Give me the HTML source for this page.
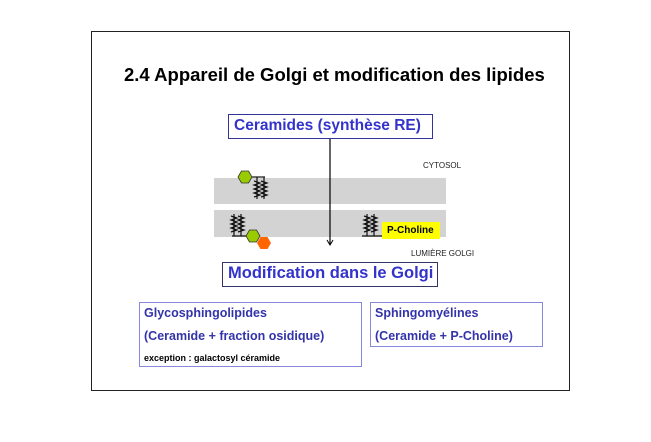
<!DOCTYPE html>
<html><head><style>
body{margin:0;width:651px;height:442px;background:#fff;position:relative;font-family:"Liberation Sans",sans-serif;overflow:hidden}
.a{position:absolute;white-space:nowrap;font-weight:bold}
.b{position:absolute;box-sizing:border-box}
</style></head><body>
<div class="b" style="left:91px;top:31px;width:479px;height:360px;border:1.5px solid #222"></div>
<div class="a" style="left:124px;top:64px;font-size:18.5px;color:#000">2.4 Appareil de Golgi et modification des lipides</div>
<div class="b" style="left:228px;top:114px;width:205px;height:25px;border:1.5px solid #333399"></div>
<div class="a" style="left:234px;top:117px;font-size:15.5px;color:#3333cc">Ceramides (synthèse RE)</div>
<div class="b" style="left:214px;top:178px;width:232px;height:26px;background:#d3d3d3"></div>
<div class="b" style="left:214px;top:210px;width:232px;height:27px;background:#d3d3d3"></div>
<div class="a" style="left:423px;top:161px;font-size:8px;color:#222;font-weight:normal">CYTOSOL</div>
<div class="a" style="left:411px;top:249px;font-size:8px;color:#222;font-weight:normal">LUMIÈRE GOLGI</div>
<div class="b" style="left:382px;top:222px;width:58px;height:17px;background:#ffff00"></div>
<div class="a" style="left:387px;top:225px;font-size:10px;color:#000">P-Choline</div>
<svg style="position:absolute;left:0;top:0" width="651" height="442">
<line x1="330" y1="139" x2="330" y2="244" stroke="#000" stroke-width="1.2"/>
<polyline points="327,240 330,245 333,240" fill="none" stroke="#000"/>
<g stroke="#111" stroke-width="1.2" fill="none">
<polyline points="252,177 265,177"/>
<polyline points="257,177 257,199"/><polyline points="264,177 264,199"/>
<polyline points="254,181 260,183 254,185 260,187 254,189 260,191 254,193 260,195 254,197"/>
<polyline points="261,181 267,183 261,185 267,187 261,189 267,191 261,193 267,195 261,197"/>
<polyline points="232,236 246,236"/>
<polyline points="234,214 234,236"/><polyline points="241,214 241,236"/>
<polyline points="231,216 237,218 231,220 237,222 231,224 237,226 231,228 237,230 231,232"/>
<polyline points="238,216 244,218 238,220 244,222 238,224 244,226 238,228 244,230 238,232"/>
<polyline points="362,236 382,236"/>
<polyline points="367,214 367,236"/><polyline points="374,214 374,236"/>
<polyline points="364,216 370,218 364,220 370,222 364,224 370,226 364,228 370,230 364,232"/>
<polyline points="371,216 377,218 371,220 377,222 371,224 377,226 371,228 377,230 371,232"/>
</g>
<polygon points="238,177 241.5,171 248.5,171 252,177 248.5,183 241.5,183" fill="#99cc00" stroke="#333" stroke-width="0.8"/>
<polygon points="246,236 249.5,230 256.5,230 260,236 256.5,242 249.5,242" fill="#99cc00" stroke="#333" stroke-width="0.8"/>
<polygon points="257,243 260.5,237 267.5,237 271,243 267.5,249 260.5,249" fill="#ff6600"/>
</svg>
<div class="b" style="left:222px;top:262px;width:216px;height:25px;border:1.5px solid #333366"></div>
<div class="a" style="left:228px;top:264px;font-size:16.5px;color:#3333cc">Modification dans le Golgi</div>
<div class="b" style="left:139px;top:302px;width:223px;height:65px;border:1.5px solid #8888dd"></div>
<div class="a" style="left:144px;top:306px;font-size:12.5px;color:#3333aa">Glycosphingolipides</div>
<div class="a" style="left:144px;top:329px;font-size:12.5px;color:#3333aa">(Ceramide + fraction osidique)</div>
<div class="a" style="left:144px;top:353px;font-size:9px;color:#000">exception : galactosyl céramide</div>
<div class="b" style="left:370px;top:302px;width:173px;height:45px;border:1.5px solid #8888dd"></div>
<div class="a" style="left:375px;top:306px;font-size:12.5px;color:#3333aa">Sphingomyélines</div>
<div class="a" style="left:375px;top:329px;font-size:12.5px;color:#3333aa">(Ceramide + P-Choline)</div>
</body></html>
